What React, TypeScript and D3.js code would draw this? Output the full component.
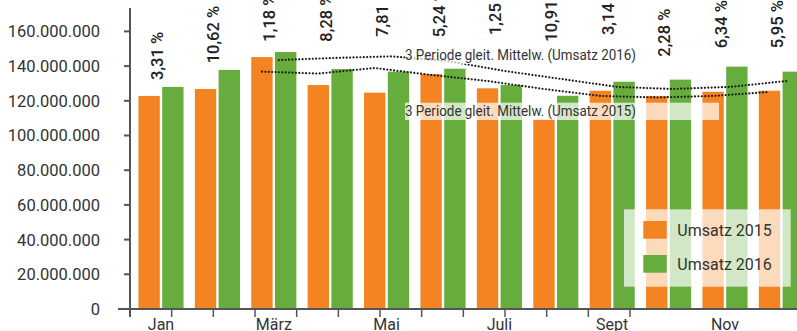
import React from "react";
import * as d3 from "d3";

// ---- data (values in millions) ----
const months = ["Jan", "Feb", "März", "Apr", "Mai", "Juni", "Juli", "Aug", "Sept", "Okt", "Nov", "Dez"];
const shownMonths = ["Jan", "März", "Mai", "Juli", "Sept", "Nov"];
const seriesNames = ["Umsatz 2015", "Umsatz 2016"];
const umsatz2015 = [122.8, 126.8, 145.2, 129.1, 124.7, 135.4, 127.2, 109.3, 125.8, 122.8, 125.2, 125.8];
const umsatz2016 = [128.0, 137.8, 148.1, 138.3, 136.8, 138.5, 129.1, 122.9, 131.0, 132.2, 139.7, 136.8];
const changeLabels = ["3,31 %", "10,62 %", "1,18 %", "8,28 %", "7,81 %", "5,24 %", "1,25 %", "10,91 %", "3,14 %", "2,28 %", "6,34 %", "5,95 %"];
const changeLabelBase = [132.0, 141.6, 154.1, 154.1, 156.9, 156.6, 157.9, 154.1, 157.9, 145.4, 150.3, 150.3];
const ma2015 = [null, null, 136.8, 135.7, 138.9, 134.9, 131.4, 126.8, 122.8, 121.9, 122.8, 125.1];
const ma2016 = [null, null, 143.5, 144.7, 145.6, 142.9, 137.2, 132.6, 128.0, 126.8, 128.0, 131.4];
const maLabels = ["3 Periode gleit. Mittelw. (Umsatz 2016)", "3 Periode gleit. Mittelw. (Umsatz 2015)"];
const yTicks = [0, 20, 40, 60, 80, 100, 120, 140, 160];

const W = 797;
const H = 331;
const ORANGE = "#f38421";
const GREEN = "#67ad3d";
const AXIS = "#555555";
const TEXT = "#333333";
const FONT = "Roboto, 'Noto Sans', sans-serif";

const de = d3.formatLocale({ decimal: ",", thousands: ".", grouping: [3], currency: ["", " €"] });
const fmt = de.format(",");

export default function App() {
  const y = d3.scaleLinear().domain([0, 160]).range([309, 31.4]);
  const x = d3.scaleBand<string>().domain(months).range([132.8, 809.6]).paddingInner(0.2).paddingOuter(0.1);
  const xi = d3.scaleBand<string>().domain(seriesNames).range([0, x.bandwidth()]).paddingInner(0.1);
  const xTickScale = d3.scaleBand<string>().domain(months).range([130, 630]);
  const center = (m: string) => (x(m) as number) + x.bandwidth() / 2;

  const values = [umsatz2015, umsatz2016];
  const colors = [ORANGE, GREEN];

  const line2015 = d3
    .line<number | null>()
    .defined((d) => d != null)
    .x((_, i) => (x(months[i]) as number) + (xi(seriesNames[0]) as number) + xi.bandwidth() / 2)
    .y((d) => y(d as number));
  const line2016 = d3
    .line<number | null>()
    .defined((d) => d != null)
    .x((_, i) => center(months[i]) + 5)
    .y((d) => y(d as number));

  const tickPositions = months.map((m) => xTickScale(m) as number).concat([xTickScale.range()[1]]);

  return (
    <svg width={W} height={H} style={{ position: "absolute", left: 0, top: 0, background: "#fff" }} fontFamily={FONT}>
      {/* bars */}
      {values.map((vals, s) =>
        vals.map((v, i) => (
          <rect
            key={`b${s}-${i}`}
            x={(x(months[i]) as number) + (xi(seriesNames[s]) as number)}
            y={y(v)}
            width={xi.bandwidth()}
            height={y(0) - y(v)}
            fill={colors[s]}
          />
        ))
      )}

      {/* moving averages */}
      <path d={line2016(ma2016) || ""} fill="none" stroke="#1a1a1a" strokeWidth={2.2} strokeLinecap="round" strokeDasharray="0 3.4" />
      <path d={line2015(ma2015) || ""} fill="none" stroke="#1a1a1a" strokeWidth={2.2} strokeLinecap="round" strokeDasharray="0 3.4" />

      {/* moving average labels */}
      <rect x={405} y={47} width={314} height={17} fill="#fff" opacity={0.7} />
      <text x={405} y={60} fontSize={15} fill={TEXT} textLength={231} lengthAdjust="spacingAndGlyphs">
        {maLabels[0]}
      </text>
      <rect x={405} y={102.7} width={314} height={17.3} fill="#fff" opacity={0.7} />
      <text x={405} y={116} fontSize={15} fill={TEXT} textLength={231} lengthAdjust="spacingAndGlyphs">
        {maLabels[1]}
      </text>

      {/* change labels */}
      {changeLabels.map((t, i) => {
        const cx = center(months[i]) + 1.5;
        const cy = y(changeLabelBase[i]);
        return (
          <text
            key={`c${i}`}
            transform={`translate(${cx},${cy}) rotate(-90)`}
            fontSize={16.5}
            fontWeight={500}
            fill="#222"
          >
            {t}
          </text>
        );
      })}

      {/* y axis */}
      <line x1={130} x2={130} y1={8} y2={317} stroke={AXIS} strokeWidth={2} />
      {yTicks.map((t) => (
        <g key={`y${t}`}>
          <line x1={t === 0 ? 118 : 124} x2={130} y1={y(t)} y2={y(t)} stroke={AXIS} strokeWidth={2} />
          <text x={100} y={y(t)} dy="0.36em" textAnchor="end" fontSize={16.5} fill={TEXT}>
            {fmt(t * 1e6)}
          </text>
        </g>
      ))}

      {/* x axis */}
      <line x1={118} x2={W} y1={y(0)} y2={y(0)} stroke={AXIS} strokeWidth={2} />
      {tickPositions.map((p, i) => (
        <line key={`xt${i}`} x1={p} x2={p} y1={y(0)} y2={317} stroke={AXIS} strokeWidth={1.5} />
      ))}
      {shownMonths.map((m) => (
        <text key={`xl${m}`} x={center(m)} y={330} textAnchor="middle" fontSize={16} fill={TEXT}>
          {m}
        </text>
      ))}

      {/* legend */}
      <rect x={624} y={209.3} width={166.7} height={77.4} fill="#fff" opacity={0.7} />
      {seriesNames.map((n, s) => (
        <g key={`lg${s}`}>
          <rect x={643.3} y={221 + s * 34} width={23.4} height={17.7} fill={colors[s]} />
          <text x={677.3} y={230 + s * 34} dy="0.36em" fontSize={16} fill={TEXT}>
            {n}
          </text>
        </g>
      ))}
    </svg>
  );
}
